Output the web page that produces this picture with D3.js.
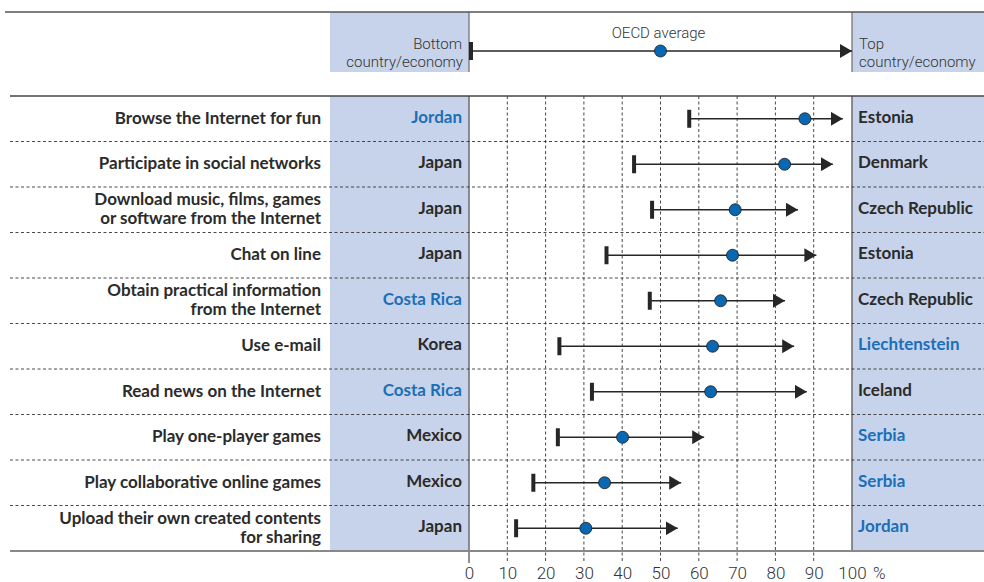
<!DOCTYPE html>
<meta charset="utf-8">
<style>
    body { margin: 0; background: #fff; }
    svg { display: block; font-family: Lato, "Open Sans", sans-serif; }
    .lbl { font-size: 17px; font-weight: bold; fill: #2b2b2b; }
    .partner { fill: #1b6fb8; }
    .hdr { font-size: 15px; fill: #333; font-family: Roboto, sans-serif; font-weight: 300; }
    .tick text { font-size: 17px; fill: #333; font-family: Roboto, sans-serif; font-weight: 300; }
</style>
<svg></svg>
<script src="https://d3js.org/d3.v7.min.js"></script>
<script>

    var activities = [
        ["Browse the Internet for fun"],
        ["Participate in social networks"],
        ["Download music, films, games", "or software from the Internet"],
        ["Chat on line"],
        ["Obtain practical information", "from the Internet"],
        ["Use e-mail"],
        ["Read news on the Internet"],
        ["Play one-player games"],
        ["Play collaborative online games"],
        ["Upload their own created contents", "for sharing"]
    ];
    var bottomCountry = ["Jordan", "Japan", "Japan", "Japan", "Costa Rica", "Korea", "Costa Rica", "Mexico", "Mexico", "Japan"];
    var topCountry = ["Estonia", "Denmark", "Czech Republic", "Estonia", "Czech Republic", "Liechtenstein", "Iceland", "Serbia", "Serbia", "Jordan"];
    var bottomPartner = [true, false, false, false, true, false, true, false, false, false];
    var topPartner = [false, false, false, false, false, true, false, true, true, true];
    var bottomValue = [57.5, 43.1, 47.8, 35.9, 47.2, 23.6, 32.1, 23.2, 16.8, 12.3];
    var oecdValue = [87.7, 82.4, 69.5, 68.8, 65.7, 63.6, 63.1, 40.1, 35.4, 30.5];
    var topValue = [97.6, 95.0, 85.9, 90.7, 82.5, 84.9, 88.2, 61.4, 55.4, 54.5];
    var tickValues = [0, 10, 20, 30, 40, 50, 60, 70, 80, 90, 100];

    var width = 984, height = 582;
    var panelBlue = "#c7d3ea", dotBlue = "#0a67b2", ink = "#262626", rule = "#6b6b6b";

    var svg = d3.select("svg").attr("width", width).attr("height", height);

    var x = d3.scaleLinear().domain([0, 100]).range([469, 852]);
    var y = d3.scaleBand().domain(d3.range(activities.length)).range([96, 551]);

    // arrow head marker
    svg.append("defs").append("marker")
        .attr("id", "arr")
        .attr("viewBox", "0 0 12 14")
        .attr("refX", 12).attr("refY", 7)
        .attr("markerWidth", 12).attr("markerHeight", 14)
        .attr("markerUnits", "userSpaceOnUse")
        .attr("orient", "auto")
        .append("path").attr("d", "M0,0L12,7L0,14Z").attr("fill", ink);

    // ---- header legend
    var hTop = 12, hBot = 72;
    svg.append("rect").attr("x", 330).attr("y", hTop).attr("width", x(0) - 330).attr("height", hBot - hTop).attr("fill", panelBlue);
    svg.append("rect").attr("x", x(100)).attr("y", hTop).attr("width", width - x(100)).attr("height", hBot - hTop).attr("fill", panelBlue);
    [0, 100].forEach(function (v) {
        svg.append("line").attr("x1", x(v)).attr("x2", x(v)).attr("y1", hTop).attr("y2", hBot)
            .attr("stroke", rule).attr("stroke-width", 1.2);
    });
    svg.append("line").attr("x1", 5).attr("x2", width).attr("y1", hTop).attr("y2", hTop)
        .attr("stroke", "#555").attr("stroke-width", 1.5);

    var legY = 51;
    svg.append("line").attr("x1", x(0)).attr("x2", x(100)).attr("y1", legY).attr("y2", legY)
        .attr("stroke", ink).attr("stroke-width", 1.5).attr("marker-end", "url(#arr)");
    svg.append("rect").attr("x", x(0)).attr("y", legY - 9).attr("width", 4).attr("height", 18).attr("fill", ink);
    svg.append("circle").attr("cx", x(50)).attr("cy", legY).attr("r", 6)
        .attr("fill", dotBlue).attr("stroke", "#1a1a1a").attr("stroke-width", 0.8);
    svg.append("text").attr("class", "hdr").attr("x", x(50) - 2).attr("y", 38).attr("text-anchor", "middle")
        .attr("font-size", 16).text("OECD average");
    svg.append("text").attr("class", "hdr").attr("x", x(0) - 7).attr("y", 49).attr("text-anchor", "end").text("Bottom");
    svg.append("text").attr("class", "hdr").attr("x", x(0) - 6).attr("y", 67).attr("text-anchor", "end").text("country/economy");
    svg.append("text").attr("class", "hdr").attr("x", x(100) + 7).attr("y", 49).text("Top");
    svg.append("text").attr("class", "hdr").attr("x", x(100) + 7).attr("y", 67).text("country/economy");

    // ---- body panels
    svg.append("rect").attr("x", 330).attr("y", y.range()[0]).attr("width", x(0) - 330).attr("height", y.range()[1] - y.range()[0]).attr("fill", panelBlue);
    svg.append("rect").attr("x", x(100)).attr("y", y.range()[0]).attr("width", width - x(100)).attr("height", y.range()[1] - y.range()[0]).attr("fill", panelBlue);

    // tick labels via axis
    var axis = d3.axisBottom(x).tickValues(tickValues).tickSize(0).tickPadding(0)
        .tickFormat(function (d) { return d; });
    var gAxis = svg.append("g").attr("transform", "translate(0,551)").call(axis);
    gAxis.select(".domain").remove();
    gAxis.selectAll(".tick text").attr("y", 28).attr("dy", 0);

    var grid = svg.append("g");
    tickValues.forEach(function (v) {
        var edge = v === 0 || v === 100;
        grid.append("line")
            .attr("x1", x(v)).attr("x2", x(v))
            .attr("y1", 96).attr("y2", v === 100 ? 551 : 563)
            .attr("stroke", edge ? rule : "#333")
            .attr("stroke-width", edge ? 1.5 : 0.9)
            .attr("stroke-dasharray", edge ? null : "3,2.5");
    });
    svg.append("text").attr("x", x(100) + 21).attr("y", 579)
        .attr("font-size", 17).attr("font-family", "Roboto, sans-serif").attr("font-weight", 300).attr("fill", "#333")
        .text("%");

    // row separators
    d3.range(1, activities.length).forEach(function (i) {
        svg.append("line").attr("x1", 10).attr("x2", width).attr("y1", y(i)).attr("y2", y(i))
            .attr("stroke", "#333").attr("stroke-width", 0.9).attr("stroke-dasharray", "3,2.5");
    });
    svg.append("line").attr("x1", 10).attr("x2", width).attr("y1", 96).attr("y2", 96)
        .attr("stroke", "#444").attr("stroke-width", 1.5);
    svg.append("line").attr("x1", 10).attr("x2", width).attr("y1", 551).attr("y2", 551)
        .attr("stroke", "#888").attr("stroke-width", 1.8);

    // ---- rows
    var rows = svg.selectAll(".row").data(d3.range(activities.length)).enter()
        .append("g").attr("class", "row")
        .attr("transform", function (i) { return "translate(0," + (y(i) + y.bandwidth() / 2) + ")"; });

    rows.each(function (i) {
        var g = d3.select(this);
        var lines = activities[i];
        var t = g.append("text").attr("class", "lbl").attr("text-anchor", "end");
        lines.forEach(function (s, k) {
            t.append("tspan").attr("x", 321)
                .attr("y", (k - (lines.length - 1) / 2) * 19 + 5)
                .text(s);
        });
    });

    rows.append("text")
        .attr("class", function (i) { return "lbl" + (bottomPartner[i] ? " partner" : ""); })
        .attr("x", 462).attr("y", 4).attr("text-anchor", "end")
        .text(function (i) { return bottomCountry[i]; });
    rows.append("text")
        .attr("class", function (i) { return "lbl" + (topPartner[i] ? " partner" : ""); })
        .attr("x", 858).attr("y", 4)
        .text(function (i) { return topCountry[i]; });

    rows.append("line")
        .attr("x1", function (i) { return x(bottomValue[i]); })
        .attr("x2", function (i) { return x(topValue[i]); })
        .attr("y1", 0).attr("y2", 0)
        .attr("stroke", ink).attr("stroke-width", 1.3)
        .attr("marker-end", "url(#arr)");
    rows.append("rect")
        .attr("x", function (i) { return x(bottomValue[i]) - 2; })
        .attr("y", -9).attr("width", 4).attr("height", 18).attr("fill", ink);
    rows.append("circle")
        .attr("cx", function (i) { return x(oecdValue[i]); })
        .attr("cy", 0).attr("r", 6)
        .attr("fill", dotBlue).attr("stroke", "#1a1a1a").attr("stroke-width", 0.8);

</script>
